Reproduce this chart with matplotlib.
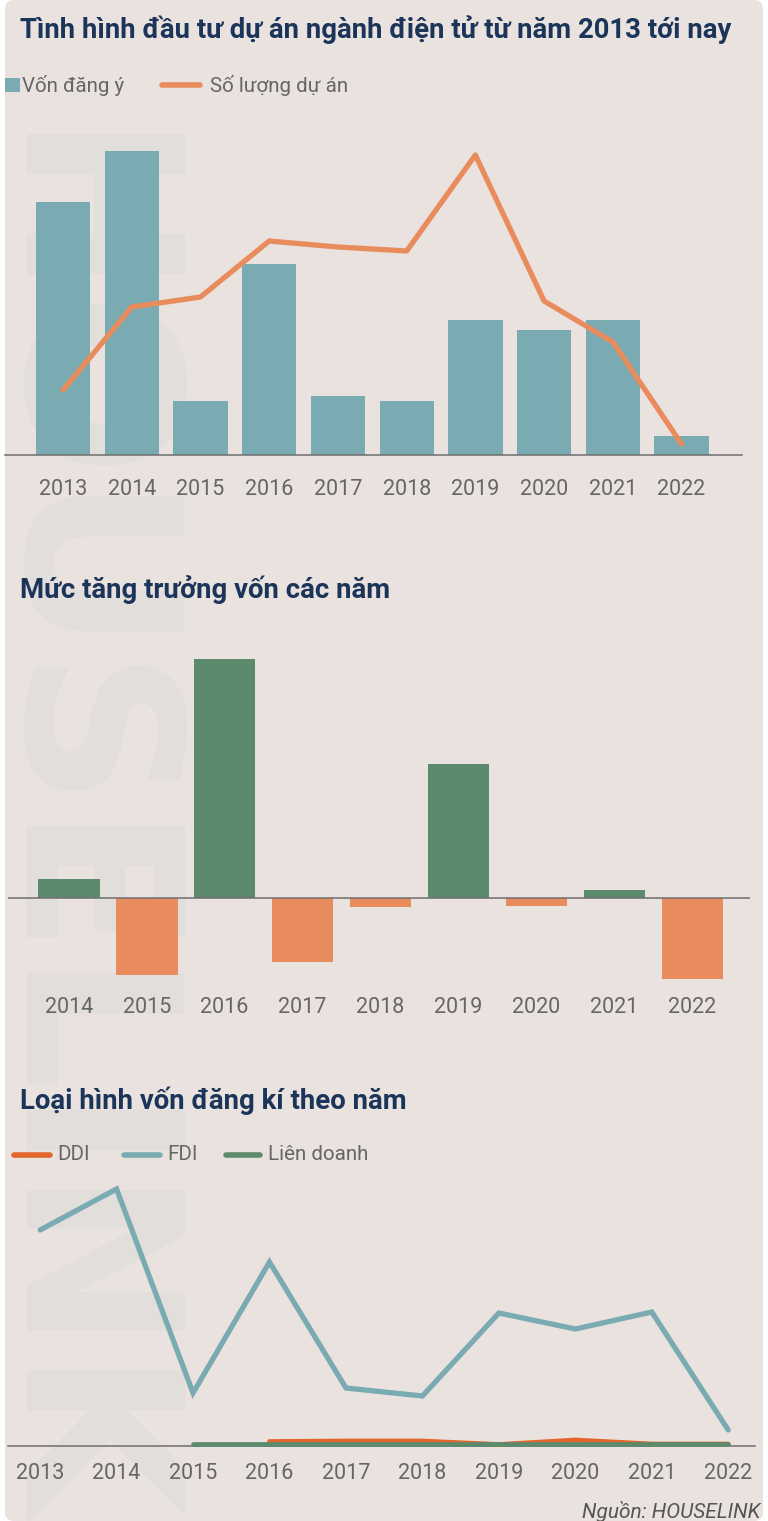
import matplotlib
matplotlib.use("Agg")
import matplotlib.pyplot as plt
import numpy as np
from matplotlib.patches import FancyBboxPatch, Rectangle
from matplotlib.lines import Line2D

# ---------------- data ----------------
years = ["2013", "2014", "2015", "2016", "2017", "2018", "2019", "2020", "2021", "2022"]
von_dang_ky = [2530, 3040, 540, 1910, 590, 540, 1350, 1250, 1350, 190]
so_luong_du_an = [32.5, 74, 79, 107, 104, 102, 150, 77, 56.5, 5.5]

growth_years = ["2014", "2015", "2016", "2017", "2018", "2019", "2020", "2021", "2022"]
growth_pct = [20.4, -82.8, 257, -68.8, -9.7, 144, -8.6, 8.6, -87]

ddi = [np.nan, np.nan, np.nan, 45, 50, 50, 15, 60, 20, 20]
fdi = [2160, 2570, 530, 1840, 580, 500, 1330, 1170, 1340, 160]
lien_doanh = [np.nan, np.nan, 25, 25, 25, 25, 25, 25, 25, 25]

titles = ["Tình hình đầu tư dự án ngành điện tử từ năm 2013 tới nay",
          "Mức tăng trưởng vốn các năm",
          "Loại hình vốn đăng kí theo năm"]
legend1 = ["Vốn đăng ý", "Số lượng dự án"]
legend3 = ["DDI", "FDI", "Liên doanh"]
source = "Nguồn: HOUSELINK"

# ---------------- style ----------------
W, H = 768, 1521
DPI = 100
BG = "#e9e2df"
TEAL = "#7aabb2"
ORANGE = "#e98c5d"
GREEN = "#5c8a6c"
DDI_C = "#e2652b"
NAVY = "#1b3459"
GREY = "#666666"
AXIS = "#6e6e6e"
FONT = ["Roboto", "DejaVu Sans"]

plt.rcParams["font.family"] = FONT

fig = plt.figure(figsize=(W / DPI, H / DPI), dpi=DPI, facecolor="white")


def rect(x0, y0, x1, y1):
    return [x0 / W, 1 - y1 / H, (x1 - x0) / W, (y1 - y0) / H]


def fx(x):
    return x / W


def fy(y):
    return 1 - y / H


# card background
card = FancyBboxPatch((fx(5), 0), fx(758), 1.0, boxstyle="round,pad=0,rounding_size=0.012",
                      transform=fig.transFigure, facecolor=BG, edgecolor="none", zorder=-3,
                      mutation_aspect=W / H)
fig.patches.append(card)

# watermark
fig.text(fx(6), fy(132), "HOUSELINK", rotation=-90, rotation_mode="anchor",
         ha="left", va="baseline", fontsize=155, fontweight="bold",
         family=["DejaVu Sans"], color="#e2dedb", zorder=-2)

# ---------------- panel 1 ----------------
ax1 = fig.add_axes(rect(5, 130, 742, 455))
x = np.arange(len(years))
ax1.bar(x, von_dang_ky, width=0.79, color=TEAL, zorder=2)
ax1.set_xlim(-0.845, 9.88)
ax1.set_ylim(0, 3250)
ax1t = ax1.twinx()
ax1t.plot(x, so_luong_du_an, color=ORANGE, lw=3.8, solid_capstyle="round",
          solid_joinstyle="round", zorder=3)
ax1t.set_ylim(0, 162.5)
for a in (ax1, ax1t):
    a.patch.set_visible(False)
    for s in ("top", "right", "left"):
        a.spines[s].set_visible(False)
    a.set_yticks([])
ax1t.spines["bottom"].set_visible(False)
ax1.spines["bottom"].set_color(AXIS)
ax1.spines["bottom"].set_linewidth(1.1)
ax1.set_xticks(x, years)
ax1.tick_params(axis="x", length=0, pad=17.5, labelsize=15.5, labelcolor=GREY)

# ---------------- panel 2 ----------------
ax2 = fig.add_axes(rect(8, 640, 750, 990))
x2 = np.arange(len(growth_years))
cols = [GREEN if v >= 0 else ORANGE for v in growth_pct]
ax2.bar(x2, growth_pct, width=0.79, color=cols, zorder=2)
ax2.axhline(0, color=AXIS, lw=1.1, zorder=3)
ax2.set_xlim(-0.78, 8.74)
ax2.set_ylim(-98.9, 277.4)
ax2.patch.set_visible(False)
for s in ax2.spines.values():
    s.set_visible(False)
ax2.set_yticks([])
ax2.set_xticks(x2, growth_years)
ax2.tick_params(axis="x", length=0, pad=5, labelsize=15.5, labelcolor=GREY)

# ---------------- panel 3 ----------------
ax3 = fig.add_axes(rect(8, 1170, 755, 1446))
ax3.plot(x, ddi, color=DDI_C, lw=3.4, solid_capstyle="round", clip_on=False, zorder=3)
ax3.plot(x, fdi, color=TEAL, lw=3.8, solid_capstyle="round", solid_joinstyle="miter",
         clip_on=False, zorder=3)
ax3.plot(x, lien_doanh, color=GREEN, lw=3.4, solid_capstyle="round", clip_on=False, zorder=4)
ax3.set_xlim(-0.42, 9.35)
ax3.set_ylim(0, 2760)
ax3.patch.set_visible(False)
for s in ("top", "right", "left"):
    ax3.spines[s].set_visible(False)
ax3.spines["bottom"].set_color(AXIS)
ax3.spines["bottom"].set_linewidth(1.1)
ax3.set_yticks([])
ax3.set_xticks(x, years)
ax3.tick_params(axis="x", length=0, pad=12, labelsize=15.5, labelcolor=GREY)

# ---------------- titles ----------------
for t, yy in zip(titles, [30, 589, 1101]):
    fig.text(fx(20), fy(yy), t, ha="left", va="center", fontsize=19.8,
             fontweight="bold", color=NAVY)

# ---------------- legends ----------------
fig.patches.append(Rectangle((fx(5), fy(92)), fx(15), 14 / H, transform=fig.transFigure,
                             facecolor=TEAL, edgecolor="none"))
fig.text(fx(22), fy(85), legend1[0], ha="left", va="center", fontsize=14.8, color=GREY)
fig.lines.append(Line2D([fx(162), fx(200)], [fy(85), fy(85)], transform=fig.transFigure,
                        color=ORANGE, lw=4, solid_capstyle="round"))
fig.text(fx(210), fy(85), legend1[1], ha="left", va="center", fontsize=14.8, color=GREY)

leg3 = [(14, 50, 57, DDI_C), (124, 160, 167, TEAL), (226, 260, 268, GREEN)]
for lab, (a, b, tx, c) in zip(legend3, leg3):
    fig.lines.append(Line2D([fx(a), fx(b)], [fy(1155), fy(1155)], transform=fig.transFigure,
                            color=c, lw=4, solid_capstyle="round"))
    fig.text(fx(tx), fy(1155), lab, ha="left", va="center", fontsize=14.8, color=GREY)

fig.text(fx(760), fy(1512), source, ha="right", va="center", fontsize=15,
         style="italic", color="#555555")

fig.savefig("out.png", dpi=DPI, facecolor="white")
